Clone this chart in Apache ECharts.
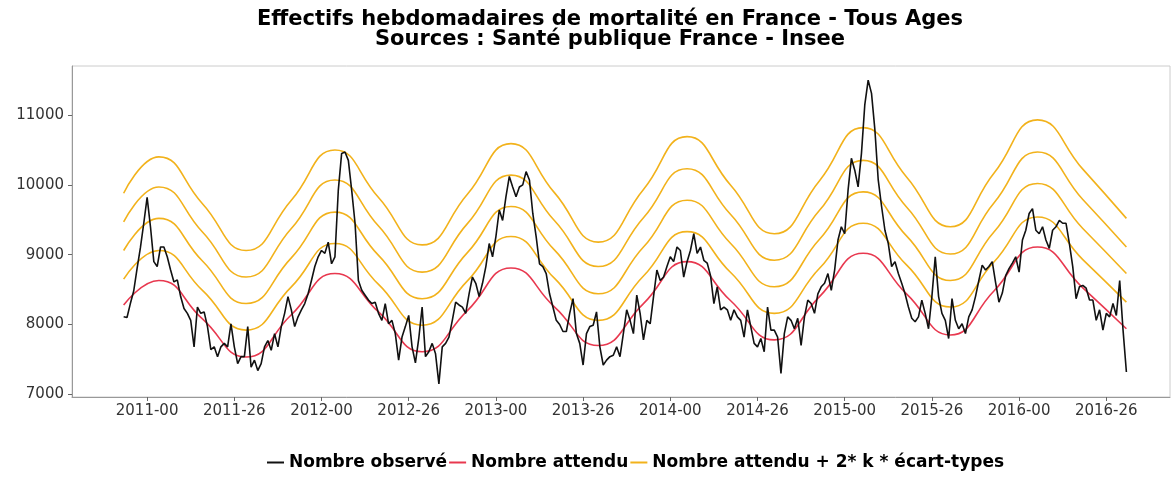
<!DOCTYPE html>
<html>
<head>
<meta charset="utf-8">
<script src="https://cdn.jsdelivr.net/npm/echarts@6/dist/echarts.min.js"></script>
<style>
  html, body { margin: 0; padding: 0; background: #fff; }
  #chart { width: 1174px; height: 479px; }
</style>
</head>
<body>
<div id="chart"></div>
<script>
// semaines comptées depuis 2011-00 (0 = 2011-00, 52 = 2012-00 ...)
const obsStart = -7;
const observed = [
  8110, 8100, 8300, 8480, 8800, 9100, 9450,
  9820, 9400, 8900, 8830, 9110, 9110, 8970, 8780, 8610, 8640,
  8400, 8230, 8160, 8060, 7680, 8250, 8160, 8180, 7970, 7640,
  7680, 7540, 7680, 7730, 7680, 8010, 7680, 7440, 7540, 7540,
  7970, 7390, 7490, 7340, 7440, 7680, 7770, 7630, 7870, 7680,
  7970, 8160, 8400, 8210, 7970, 8110, 8210, 8300, 8440, 8630,
  8830, 8970, 9060, 9020, 9180, 8870, 8970, 9920, 10450, 10470,
  10350, 9920, 9450, 8630, 8490, 8420, 8350, 8300, 8320, 8160,
  8060, 8300, 8010, 8060, 7870, 7490, 7820, 7970, 8130, 7680,
  7450, 7800, 8250, 7540, 7610, 7730, 7580, 7150, 7680, 7730,
  7820, 8060, 8320, 8280, 8250, 8160, 8440, 8680, 8590, 8400,
  8590, 8830, 9160, 8970, 9260, 9640, 9490, 9830, 10120, 9970,
  9830, 9970, 10000, 10190, 10070, 9590, 9260, 8870, 8830, 8730,
  8440, 8250, 8060, 8000, 7900, 7900, 8160, 8370, 7870, 7730,
  7420, 7870, 7970, 7990, 8180, 7680, 7420, 7490, 7540, 7560,
  7680, 7540, 7870, 8210, 8060, 7870, 8420, 8160, 7780, 8060,
  8010, 8400, 8780, 8630, 8680, 8830, 8970, 8900, 9110, 9060,
  8680, 8900, 9060, 9300, 9020, 9110, 8920, 8880, 8700, 8300,
  8540, 8210, 8250, 8210, 8060, 8210, 8110, 8060, 7820, 8210,
  7970, 7730, 7680, 7800, 7610, 8250, 7920, 7920, 7820, 7300,
  7870, 8110, 8060, 7940, 8090, 7700, 8110, 8350, 8300, 8160,
  8440, 8540, 8590, 8730, 8490, 8780, 9210, 9400, 9300, 9920,
  10380, 10210, 9970, 10450, 11150, 11500, 11310, 10790, 10070, 9690,
  9350, 9160, 8830, 8900, 8730, 8590, 8440, 8250, 8090, 8040,
  8110, 8350, 8160, 7940, 8400, 8970, 8400, 8160, 8060, 7800,
  8370, 8060, 7940, 8010, 7870, 8110, 8210, 8400, 8630, 8850,
  8780, 8830, 8900, 8600, 8320, 8450, 8700, 8800, 8880, 8970,
  8750, 9210, 9350, 9590, 9660, 9350, 9300, 9400, 9210, 9090,
  9350, 9400, 9490, 9450, 9450, 9160, 8830, 8370, 8540, 8560,
  8520, 8350, 8350, 8060, 8210, 7920, 8160, 8110, 8300, 8130,
  8630, 7920, 7320
];

const curveWeeks = [-7, 3.5, 16.5, 29.5, 43, 56, 69, 82, 95.5, 108.5, 121.5, 134.5,
  148, 161, 174, 187, 200.5, 213.5, 226.5, 239.5, 252.5, 265.5, 279, 292];
const expected = [8280, 8630, 8080, 7535, 8140, 8730, 8180, 7610, 8200, 8810, 8250, 7700,
  8300, 8900, 8340, 7780, 8400, 9020, 8435, 7850, 8480, 9110, 8525, 7940];
const upper1 = [8650, 9060, 8490, 7920, 8540, 9160, 8575, 7990, 8625, 9260, 8660, 8060,
  8695, 9330, 8745, 8160, 8805, 9450, 8850, 8250, 8895, 9540, 8930, 8320];
const upper2 = [9060, 9520, 8910, 8300, 8955, 9610, 8990, 8370, 9030, 9690, 9065, 8440,
  9110, 9780, 9160, 8540, 9220, 9900, 9265, 8630, 9325, 10020, 9375, 8730];
const upper3 = [9470, 9970, 9325, 8680, 9375, 10070, 9410, 8750, 9445, 10140, 9485, 8830,
  9530, 10230, 9575, 8920, 9635, 10350, 9680, 9010, 9740, 10470, 9790, 9110];
const upper4 = [9880, 10400, 9730, 9060, 9780, 10500, 9820, 9140, 9865, 10590, 9885, 9180,
  9935, 10690, 9995, 9300, 10060, 10820, 10110, 9400, 10165, 10930, 10225, 9520];

const xTicks = [0, 26, 52, 78, 104, 130, 156, 182, 208, 234, 260, 286];
const yTicks = [7000, 8000, 9000, 10000, 11000];

const weekLabel = v => {
  const year = 2011 + Math.floor(v / 52);
  const wk = v - Math.floor(v / 52) * 52;
  return year + '-' + String(wk).padStart(2, '0');
};

const obsData = observed.map((v, i) => [obsStart + i, v]);
const toCurve = arr => arr.map((v, i) => [curveWeeks[i], v]);

const black = '#111111';
const red = '#E8384F';
const gold = '#F2B21B';
const font = 'DejaVu Sans, sans-serif';

const curveSeries = (name, data, color) => ({
  name: name,
  type: 'line',
  data: data,
  smooth: 0.5,
  showSymbol: false,
  lineStyle: { color: color, width: 1.6 },
  itemStyle: { color: color },
  animation: false
});

const chart = echarts.init(document.getElementById('chart'));
chart.setOption({
  backgroundColor: '#fff',
  animation: false,
  title: {
    text: 'Effectifs hebdomadaires de mortalité en France - Tous Ages\nSources : Santé publique France - Insee',
    left: 605,
    top: 5,
    textAlign: 'center',
    textStyle: { fontFamily: font, fontSize: 21, fontWeight: 'bold', color: '#000', lineHeight: 20 }
  },
  legend: {
    bottom: 3,
    left: 262,
    itemGap: 2,
    itemWidth: 17,
    itemHeight: 2,
    icon: 'rect',
    textStyle: { fontFamily: font, fontSize: 17, fontWeight: 'bold', color: '#000' },
    data: ['Nombre observé', 'Nombre attendu', 'Nombre attendu + 2* k * écart-types']
  },
  grid: {
    left: 72, right: 4, top: 66, bottom: 82,
    show: true, borderColor: '#cccccc', borderWidth: 1
  },
  xAxis: {
    type: 'value',
    min: -22.4,
    max: 305,
    splitLine: { show: false },
    axisLine: { show: true, onZero: false, lineStyle: { color: '#999' } },
    axisTick: { show: true, length: 4, customValues: xTicks, lineStyle: { color: '#666' } },
    axisLabel: {
      customValues: xTicks,
      formatter: weekLabel,
      fontFamily: font, fontSize: 15, color: '#333', margin: 7
    }
  },
  yAxis: {
    type: 'value',
    min: 6962,
    max: 11702,
    splitLine: { show: false },
    axisLine: { show: true, onZero: false, lineStyle: { color: '#999' } },
    axisTick: { show: true, length: 4, customValues: yTicks, lineStyle: { color: '#666' } },
    axisLabel: {
      customValues: yTicks,
      formatter: v => String(v),
      fontFamily: font, fontSize: 15, color: '#333', margin: 8
    }
  },
  series: [
    {
      name: 'Nombre observé',
      type: 'line',
      data: obsData,
      showSymbol: false,
      lineStyle: { color: black, width: 1.6 },
      itemStyle: { color: black },
      z: 5
    },
    curveSeries('Nombre attendu', toCurve(expected), red),
    curveSeries('Nombre attendu + 2* k * écart-types', toCurve(upper1), gold),
    curveSeries('Nombre attendu + 2* k * écart-types', toCurve(upper2), gold),
    curveSeries('Nombre attendu + 2* k * écart-types', toCurve(upper3), gold),
    curveSeries('Nombre attendu + 2* k * écart-types', toCurve(upper4), gold)
  ]
});
</script>
</body>
</html>
